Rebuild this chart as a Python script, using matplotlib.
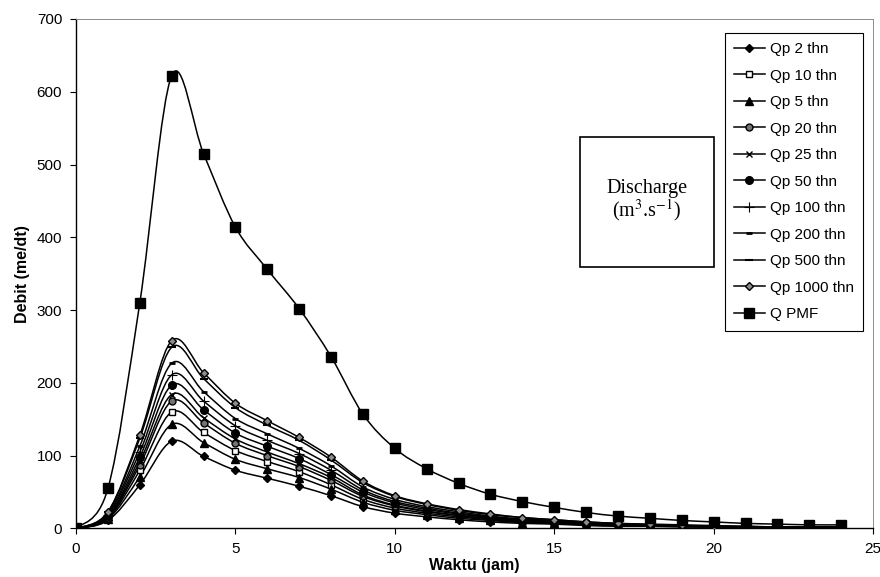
import numpy as np
import matplotlib.pyplot as plt
from matplotlib.path import Path
from matplotlib.patches import PathPatch, Rectangle
from matplotlib.lines import Line2D

plt.rcParams['font.family'] = ['Liberation Sans', 'DejaVu Sans']
plt.rcParams['mathtext.fontset'] = 'stix'

# waktu (jam)
t = list(range(25))

qp2    = [0, 11, 60, 120, 99, 80, 69, 58, 45, 30, 21, 16, 12, 9, 7, 6, 4, 3, 3, 2, 2, 1, 1, 1, 1]
qp10   = [0, 14, 80, 160, 132, 107, 92, 78, 60, 40, 28, 21, 16, 12, 9, 7, 6, 4, 4, 3, 2, 2, 1, 1, 1]
qp5    = [0, 13, 71, 143, 118, 95, 82, 70, 54, 36, 25, 19, 14, 11, 8, 7, 5, 4, 3, 3, 2, 2, 1, 1, 1]
qp20   = [0, 15, 87, 175, 145, 117, 100, 85, 66, 44, 31, 23, 18, 13, 10, 8, 6, 5, 4, 3, 2, 2, 2, 1, 1]
qp25   = [0, 16, 92, 184, 152, 123, 105, 89, 70, 46, 32, 24, 18, 14, 11, 9, 7, 5, 4, 3, 3, 2, 2, 1, 1]
qp50   = [0, 17, 98, 197, 163, 131, 113, 96, 74, 50, 35, 26, 20, 15, 12, 9, 7, 6, 4, 4, 3, 2, 2, 2, 1]
qp100  = [0, 19, 105, 211, 175, 141, 121, 103, 80, 53, 37, 28, 21, 16, 12, 10, 8, 6, 5, 4, 3, 2, 2, 2, 1]
qp200  = [0, 20, 113, 227, 188, 151, 130, 110, 86, 57, 40, 30, 23, 17, 13, 11, 8, 6, 5, 4, 3, 2, 2, 2, 2]
qp500  = [0, 22, 124, 249, 206, 166, 142, 121, 94, 63, 44, 33, 25, 19, 15, 12, 9, 7, 5, 4, 3, 3, 2, 2, 2]
qp1000 = [0, 23, 128, 258, 214, 172, 148, 125, 98, 65, 45, 34, 26, 20, 15, 12, 9, 7, 6, 5, 4, 3, 2, 2, 2]
qpmf   = [0, 55, 310, 622, 515, 414, 356, 302, 236, 157, 110, 82, 62, 47, 37, 29, 22, 17, 14, 11, 9, 7, 6, 5, 5]

labels = ['Qp 2 thn', 'Qp 10 thn', 'Qp 5 thn', 'Qp 20 thn', 'Qp 25 thn', 'Qp 50 thn',
          'Qp 100 thn', 'Qp 200 thn', 'Qp 500 thn', 'Qp 1000 thn', 'Q PMF']
series = [qp2, qp10, qp5, qp20, qp25, qp50, qp100, qp200, qp500, qp1000, qpmf]

styles = [
    dict(marker='D', ms=4.5, mfc='k', mec='k'),
    dict(marker='s', ms=5, mfc='white', mec='k', mew=1.0),
    dict(marker='^', ms=5.5, mfc='k', mec='k'),
    dict(marker='o', ms=5, mfc='0.45', mec='k', mew=1.0),
    dict(marker='x', ms=5, mec='k', mew=1.0),
    dict(marker='o', ms=5.5, mfc='k', mec='k'),
    dict(marker='+', ms=7, mec='k', mew=0.8),
    dict(marker='_', ms=4, mec='k', mew=2.0),
    dict(marker='_', ms=6, mec='k', mew=1.5),
    dict(marker='D', ms=4, mfc='0.55', mec='k', mew=1.0),
    dict(marker='s', ms=6.5, mfc='k', mec='k'),
]


def smooth_path(x, y):
    # excel-like smoothed line (catmull-rom as cubic bezier)
    p = np.column_stack([x, y]).astype(float)
    n = len(p)
    verts = [p[0]]
    codes = [Path.MOVETO]
    for i in range(n - 1):
        p0 = p[i - 1] if i > 0 else p[i]
        p3 = p[i + 2] if i + 2 < n else p[i + 1]
        c1 = p[i] + (p[i + 1] - p0) / 6
        c2 = p[i + 1] - (p3 - p[i]) / 6
        verts += [c1, c2, p[i + 1]]
        codes += [Path.CURVE4] * 3
    return Path(verts, codes)


fig = plt.figure(figsize=(8.8, 5.77), dpi=100)
ax = fig.add_axes([0.0864, 0.0841, 0.9057, 0.883])

handles = []
for q, st, lab in zip(series, styles, labels):
    ax.add_patch(PathPatch(smooth_path(t, q), fill=False, ec='k', lw=1.1, zorder=2))
    ax.plot(t, q, ls='none', zorder=3, **st)
    handles.append(Line2D([], [], color='k', lw=1.1, **st))

ax.set_xlim(0, 25)
ax.set_ylim(0, 700)
ax.set_xticks(range(0, 26, 5))
ax.set_yticks(range(0, 701, 100))
ax.tick_params(direction='out', length=4, width=0.8, labelsize=11)
ax.tick_params(axis='x', pad=6)
ax.tick_params(axis='y', pad=6)
ax.set_xlabel('Waktu (jam)', fontsize=11.5, fontweight='bold')
ax.set_ylabel('Debit (me/dt)', fontsize=11.5, fontweight='bold')
ax.xaxis.set_label_coords(0.5, -0.057)
ax.yaxis.set_label_coords(-0.058, 0.5)
for s in ['left', 'bottom']:
    ax.spines[s].set_linewidth(1.0)
for s in ['top', 'right']:
    ax.spines[s].set_color('0.55')
    ax.spines[s].set_linewidth(0.7)

leg = ax.legend(handles, labels, loc='upper right', bbox_to_anchor=(0.981, 0.943),
                bbox_transform=fig.transFigure, fontsize=11, frameon=True, fancybox=False,
                edgecolor='k', framealpha=1, handlelength=2.0, handletextpad=0.35,
                labelspacing=0.82, borderpad=0.6, borderaxespad=0)
leg.get_frame().set_linewidth(0.8)

fig.patches.append(Rectangle((580 / 880, 1 - 267 / 577), 134 / 880, 130 / 577,
                             transform=fig.transFigure, fill=False, ec='k', lw=1.2))
fig.text(647 / 880, 1 - 201 / 577, 'Discharge\n(m$^3$.s$^{-1}$)', ha='center', va='center',
         fontsize=14.5, family='Liberation Serif', linespacing=1.0)

fig.savefig('out.png', dpi=100)
